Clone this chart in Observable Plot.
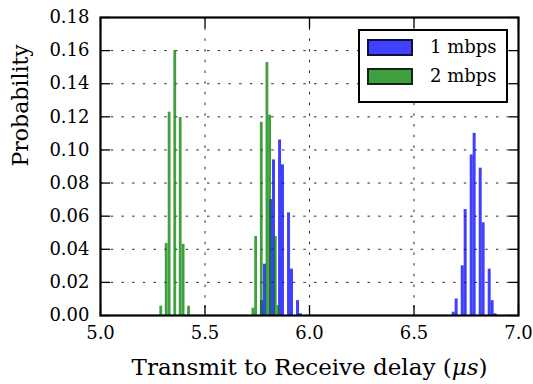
<!DOCTYPE html>
<html>
<head>
<meta charset="utf-8">
<script src="https://cdn.jsdelivr.net/npm/d3@7"></script>
<script src="https://cdn.jsdelivr.net/npm/@observablehq/plot@0.6"></script>
<style>
  body { margin: 0; background: #fff; }
  #chart { position: relative; width: 533px; height: 384px; }
  .legend {
    position: absolute; left: 358px; top: 29px; width: 150px; height: 74px;
    box-sizing: border-box; border: 2px solid #000; background: #fff;
    font-family: "DejaVu Serif", serif; font-size: 18px; color: #000;
  }
  .legend .row { position: absolute; left: 7px; height: 18px; display: flex; align-items: center; }
  .legend .swatch { width: 42px; height: 13px; border: 2px solid rgba(0,0,0,0.75); margin-right: 17px; }
  .legend .lbl { line-height: 18px; white-space: nowrap; }
</style>
</head>
<body>
<div id="chart"></div>
<script>
// Axis ticks
const xTicks = [5.0, 5.5, 6.0, 6.5, 7.0];
const yTicks = [0.00, 0.02, 0.04, 0.06, 0.08, 0.10, 0.12, 0.14, 0.16, 0.18];

// Series names and colours
const seriesNames = ["1 mbps", "2 mbps"];
const seriesColors = ["blue", "green"];

// 1 mbps histogram: bin left edges (µs), bin width and probabilities
const binWidth1 = 0.01433;
const binStart1 = [5.766, 5.780, 5.809, 5.823, 5.852, 5.866, 5.895, 5.909, 5.938, 5.952,
                   6.683, 6.697, 6.726, 6.740, 6.769, 6.783, 6.812, 6.826, 6.855, 6.869, 6.883];
const prob1 = [0.009, 0.031, 0.070, 0.094, 0.106, 0.091, 0.062, 0.028, 0.009, 0.001,
               0.002, 0.010, 0.030, 0.064, 0.097, 0.110, 0.089, 0.056, 0.028, 0.009, 0.001];

// 2 mbps histogram
const binWidth2 = 0.01337;
const binStart2 = [5.284, 5.310, 5.324, 5.351, 5.377, 5.391, 5.417,
                   5.725, 5.738, 5.765, 5.792, 5.805, 5.832, 5.845];
const prob2 = [0.0056, 0.0435, 0.1228, 0.160, 0.1196, 0.043, 0.0056,
               0.0044, 0.0477, 0.1167, 0.1528, 0.121, 0.0477, 0.006];

const bars1 = binStart1.map((x, i) => ({x, w: binWidth1, p: prob1[i]}));
const bars2 = binStart2.map((x, i) => ({x, w: binWidth2, p: prob2[i]}));

const gridStyle = {stroke: "black", strokeOpacity: 0.85, strokeWidth: 1, strokeDasharray: "2.5,8.2"};
const font = "DejaVu Serif";

const chart = Plot.plot({
  width: 533,
  height: 384,
  marginLeft: 100,
  marginRight: 15,
  marginTop: 17,
  marginBottom: 69,
  style: {fontFamily: font, fontSize: "18px", color: "black", background: "white"},
  x: {domain: [5, 7]},
  y: {domain: [0, 0.18]},
  marks: [
    Plot.gridX(xTicks, gridStyle),
    Plot.gridY(yTicks, gridStyle),
    Plot.rect(bars1, {x1: "x", x2: d => d.x + d.w, y1: () => 0, y2: "p", fill: seriesColors[0], fillOpacity: 0.75}),
    Plot.rect(bars2, {x1: "x", x2: d => d.x + d.w, y1: () => 0, y2: "p", fill: seriesColors[1], fillOpacity: 0.75}),
    // tick labels
    Plot.axisX(xTicks, {anchor: "bottom", tickSize: 0, tickPadding: 11, tickFormat: d3.format(".1f"), label: null}),
    Plot.axisY(yTicks, {anchor: "left", tickSize: 0, tickPadding: 11, tickFormat: d3.format(".2f"), label: null}),
    // inward tick marks on all four sides
    Plot.axisX(xTicks, {anchor: "bottom", tickSize: -10, tickFormat: () => "", label: null, strokeWidth: 1.3}),
    Plot.axisX(xTicks, {anchor: "top", tickSize: -10, tickFormat: () => "", label: null, strokeWidth: 1.3}),
    Plot.axisY(yTicks, {anchor: "left", tickSize: -10, tickFormat: () => "", label: null, strokeWidth: 1.3}),
    Plot.axisY(yTicks, {anchor: "right", tickSize: -10, tickFormat: () => "", label: null, strokeWidth: 1.3}),
    // axis titles
    Plot.text(["Transmit to Receive delay (μs)"], {frameAnchor: "bottom", dy: 59, fontSize: 23, className: "xlabel"}),
    Plot.text(["Probability"], {frameAnchor: "left", dx: -80, rotate: -90, fontSize: 22}),
    Plot.frame({stroke: "black", strokeWidth: 2.2})
  ]
});

// set the µs unit in italics
const xl = d3.select(chart).select(".xlabel text");
xl.text(null);
xl.append("tspan").text("Transmit to Receive delay (");
xl.append("tspan").attr("font-style", "italic").text("μs");
xl.append("tspan").text(")");

const root = document.getElementById("chart");
root.appendChild(chart);

// legend
const legend = document.createElement("div");
legend.className = "legend";
const rowTops = [7, 36];
seriesNames.forEach((name, i) => {
  const row = document.createElement("div");
  row.className = "row";
  row.style.top = rowTops[i] + "px";
  const sw = document.createElement("div");
  sw.className = "swatch";
  sw.style.background = i === 0 ? "rgba(0,0,255,0.75)" : "rgba(0,128,0,0.75)";
  const lb = document.createElement("span");
  lb.className = "lbl";
  lb.textContent = name;
  row.appendChild(sw);
  row.appendChild(lb);
  legend.appendChild(row);
});
root.appendChild(legend);
</script>
</body>
</html>
